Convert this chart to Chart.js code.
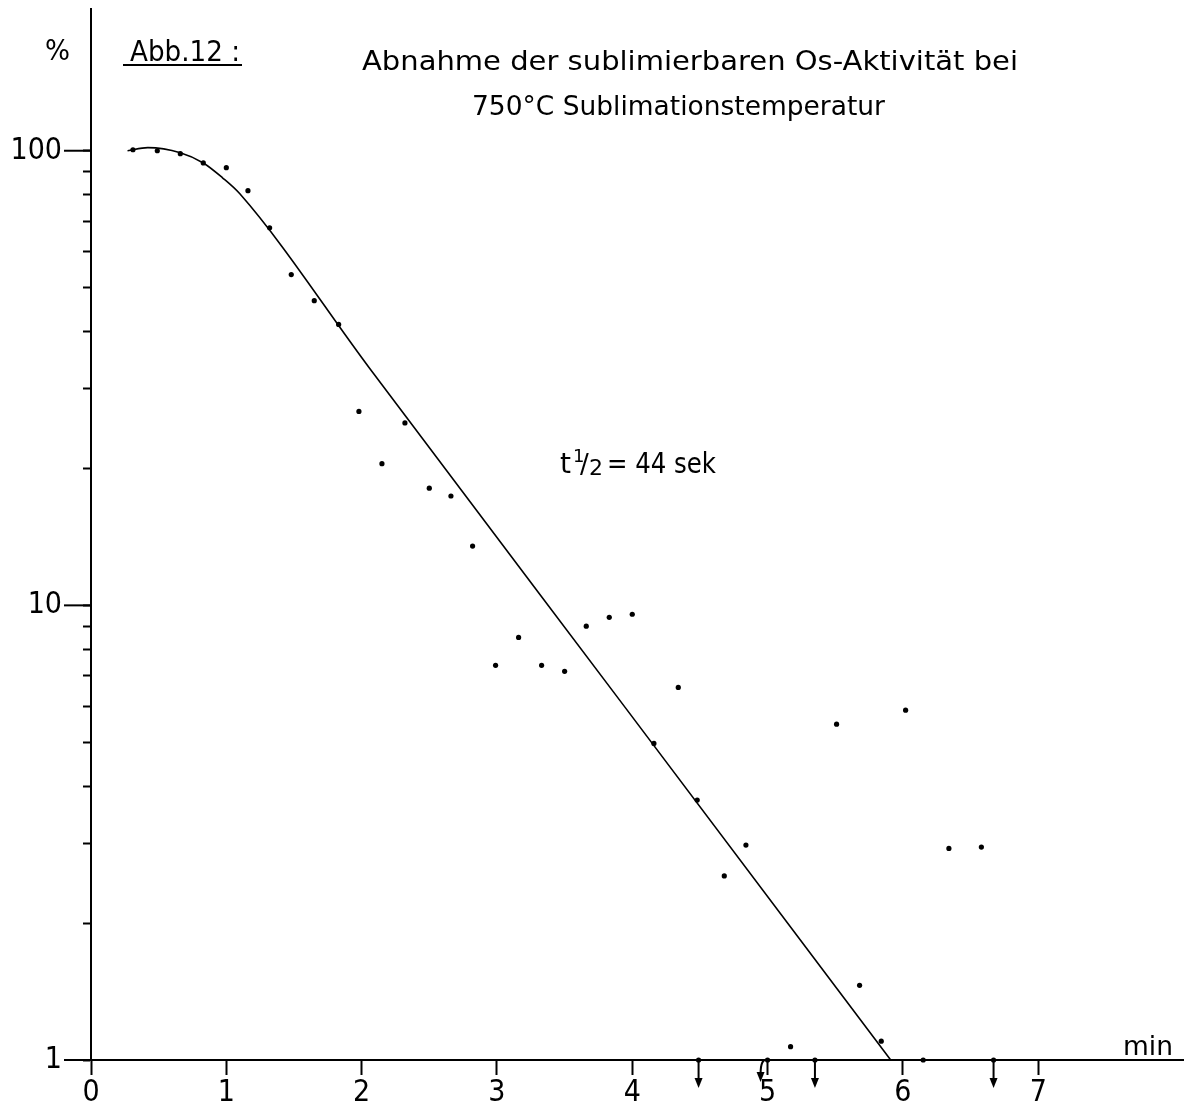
<!DOCTYPE html>
<html>
<head>
<meta charset="utf-8">
<script src="https://cdn.jsdelivr.net/npm/chart.js@4.4.1/dist/chart.umd.min.js"></script>
<style>
  html, body { margin: 0; padding: 0; background: #fff; }
  #wrap { width: 1187px; height: 1115px; }
</style>
</head>
<body>
<div id="wrap"><canvas id="osChart" width="1187" height="1115"></canvas></div>
<script>
  const timeMin = [0.31, 0.49, 0.66, 0.83, 1.0, 1.16, 1.32, 1.48, 1.65, 1.83,
    1.98, 2.15, 2.32, 2.5, 2.66, 2.82, 2.99, 3.16, 3.33, 3.5, 3.66, 3.83, 4.0,
    4.16, 4.34, 4.48, 4.68, 4.84, 5.17, 5.51, 5.68, 5.84, 6.02, 6.15, 6.34, 6.58];
  const activity = [100.5, 100, 98.5, 94, 91.8, 81.7, 67.7, 53.4, 46.8, 41.5,
    26.7, 20.5, 25.2, 18.1, 17.4, 13.5, 7.38, 8.5, 7.38, 7.16, 9.0, 9.41, 9.56,
    4.97, 6.6, 3.73, 2.54, 2.97, 1.07, 5.48, 1.46, 1.1, 5.88, 1.0, 2.92, 2.94];

  // measurements below 1 % (drawn as arrows)
  const limitTime = [4.49, 5.0, 5.35, 6.67];
  const limitValue = [1, 1, 1, 1];

  // hand drawn fit curve, t1/2 = 44 s
  const fitTime = [0.27, 0.42, 0.66, 0.83, 0.97, 1.10, 2.06, 3.95, 5.91];
  const fitValue = [100, 101.6, 99, 94, 87.3, 80.4, 33.2, 5.95, 1];

  const xTicks = [0, 1, 2, 3, 4, 5, 6, 7];
  const yTicks = [1, 2, 3, 4, 5, 6, 7, 8, 9, 10, 20, 30, 40, 50, 60, 70, 80, 90, 100];
  const yLabels = [1, 10, 100];

  const tickFont = { family: "'Liberation Sans Narrow', 'DejaVu Sans Condensed', sans-serif", size: 30 };
  const textFont = "'DejaVu Sans', sans-serif";

  function toXY(xs, ys) {
    return xs.map((x, i) => ({ x: x, y: ys[i] }));
  }

  function fitText(ctx, text, x, y, width, size) {
    ctx.font = size + "px " + textFont;
    const w = ctx.measureText(text).width;
    ctx.save();
    ctx.translate(x, y);
    ctx.scale(width / w, 1);
    ctx.fillText(text, 0, 0);
    ctx.restore();
  }

  const extras = {
    id: "extras",
    afterDraw(chart) {
      const ctx = chart.ctx;
      const xs = chart.scales.x;
      const ys = chart.scales.y;
      ctx.save();
      ctx.fillStyle = "#000";
      ctx.strokeStyle = "#000";

      // long ticks at decades
      ctx.lineWidth = 2;
      yLabels.forEach(v => {
        const py = ys.getPixelForValue(v);
        ctx.beginPath();
        ctx.moveTo(xs.left - 27, py);
        ctx.lineTo(xs.left, py);
        ctx.stroke();
      });

      // arrows for values below 1 % (the one at 5 min is bent to the left)
      ctx.lineWidth = 2;
      limitTime.forEach((t, i) => {
        const px = xs.getPixelForValue(t);
        const py = ys.getPixelForValue(limitValue[i]);
        const bend = t === 5.0 ? -7 : 0;
        ctx.beginPath();
        ctx.moveTo(px, py);
        if (bend) {
          ctx.quadraticCurveTo(px + bend, py - 2, px + bend, py + 14);
        } else {
          ctx.lineTo(px, py + 20);
        }
        ctx.stroke();
        const ax = px + bend;
        const ay = bend ? py + 12 : py + 18;
        ctx.beginPath();
        ctx.moveTo(ax - 4, ay);
        ctx.lineTo(ax + 4, ay);
        ctx.lineTo(ax, ay + 10);
        ctx.closePath();
        ctx.fill();
      });

      // texts
      ctx.textAlign = "left";
      ctx.textBaseline = "alphabetic";
      fitText(ctx, "%", 45, 60, 25, 28);
      fitText(ctx, "Abb.12 :", 130, 61, 110, 29);
      ctx.lineWidth = 2;
      ctx.beginPath();
      ctx.moveTo(123, 65);
      ctx.lineTo(242, 65);
      ctx.stroke();
      fitText(ctx, "Abnahme der sublimierbaren Os-Aktivität bei", 362, 70, 656, 27);
      fitText(ctx, "750°C Sublimationstemperatur", 472, 115, 413, 27);

      // t1/2 = 44 sek
      ctx.font = "28px " + textFont;
      ctx.fillText("t", 560, 473);
      ctx.font = "18px " + textFont;
      ctx.fillText("1", 573, 462);
      ctx.font = "26px " + textFont;
      ctx.fillText("/", 580, 473);
      ctx.font = "22px " + textFont;
      ctx.fillText("2", 589, 475);
      fitText(ctx, "= 44 sek", 607, 473, 109, 28);

      fitText(ctx, "min", 1123, 1055, 50, 27);
      ctx.restore();
    }
  };

  new Chart(document.getElementById("osChart").getContext("2d"), {
    type: "scatter",
    data: {
      datasets: [
        {
          label: "Aktivität",
          data: toXY(timeMin, activity),
          backgroundColor: "#000",
          borderWidth: 0,
          pointRadius: 2.6,
          clip: false,
        },
        {
          label: "< 1 %",
          data: toXY(limitTime, limitValue),
          backgroundColor: "#000",
          borderWidth: 0,
          pointRadius: 2.6,
          clip: false,
        },
        {
          type: "line",
          label: "Ausgleichskurve",
          data: toXY(fitTime, fitValue),
          borderColor: "#000",
          borderWidth: 1.6,
          pointRadius: 0,
          cubicInterpolationMode: "monotone",
          fill: false,
          clip: false,
        },
      ],
    },
    options: {
      responsive: false,
      animation: false,
      devicePixelRatio: 1,
      layout: { padding: { top: 9, right: 0, left: 0, bottom: 0 } },
      plugins: {
        legend: { display: false },
        title: { display: false },
        tooltip: { enabled: false },
      },
      scales: {
        x: {
          type: "linear",
          min: 0,
          max: 8.07,
          afterBuildTicks: (scale) => {
            scale.ticks = xTicks.map(v => ({ value: v }));
          },
          afterFit: (scale) => {
            scale.height = 55;
            scale.paddingLeft = 0;
            scale.paddingRight = 0;
          },
          ticks: {
            color: "#000",
            font: tickFont,
            padding: 0,
            maxRotation: 0,
            autoSkip: false,
          },
          grid: {
            drawOnChartArea: false,
            drawTicks: true,
            tickLength: 15,
            tickColor: "#000",
            tickWidth: 2,
          },
          border: { display: true, color: "#000", width: 2 },
        },
        y: {
          type: "logarithmic",
          min: 1,
          max: 205,
          afterBuildTicks: (scale) => {
            scale.ticks = yTicks.map(v => ({ value: v }));
          },
          afterFit: (scale) => {
            scale.width = 91;
            scale.paddingTop = 0;
            scale.paddingBottom = 0;
          },
          ticks: {
            color: "#000",
            font: tickFont,
            padding: 21,
            autoSkip: false,
            callback: (v) => (yLabels.includes(v) ? String(v) : ""),
          },
          grid: {
            drawOnChartArea: false,
            drawTicks: true,
            tickLength: 8,
            tickColor: "#000",
            tickWidth: 2,
          },
          border: { display: true, color: "#000", width: 2 },
        },
      },
    },
    plugins: [extras],
  });
</script>
</body>
</html>
